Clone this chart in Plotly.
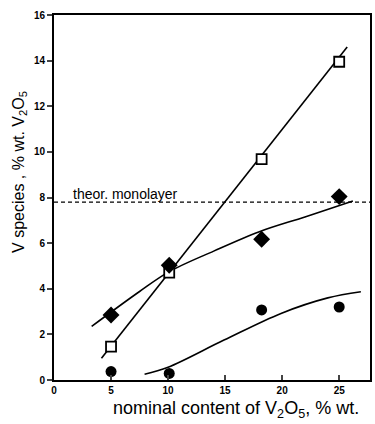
import plotly.graph_objects as go

# Measured V species content vs nominal V2O5 loading (% wt.)
nominal = [5.0, 10.1, 18.2, 25.0]
squares = [1.46, 4.71, 9.68, 13.95]
diamonds = [2.85, 5.03, 6.17, 8.04]
circles = [0.37, 0.29, 3.07, 3.20]

# Hand-drawn trend curves
sq_fit_x = [4.16, 25.7]
sq_fit_y = [0.95, 14.6]
di_fit_x = [3.3, 7.5, 10.1, 14.0, 18.0, 22.0, 26.2]
di_fit_y = [2.35, 3.88, 4.75, 5.65, 6.5, 7.15, 7.85]
ci_fit_x = [7.94, 10.0, 14.9, 19.9, 24.0, 26.9]
ci_fit_y = [0.25, 0.56, 1.75, 2.92, 3.6, 3.87]

monolayer = 7.8

x_ticks = [0, 5, 10, 15, 20, 25]
y_ticks = [0, 2, 4, 6, 8, 10, 12, 14, 16]

FONT = "Liberation Sans"
line_style = dict(color="black", width=1.6)

fig = go.Figure()
fig.add_trace(go.Scatter(x=sq_fit_x, y=sq_fit_y, mode="lines", line=line_style))
fig.add_trace(go.Scatter(x=di_fit_x, y=di_fit_y, mode="lines",
                         line=dict(line_style, shape="spline", smoothing=1.0)))
fig.add_trace(go.Scatter(x=ci_fit_x, y=ci_fit_y, mode="lines",
                         line=dict(line_style, shape="spline", smoothing=1.0)))

fig.add_trace(go.Scatter(x=nominal, y=squares, mode="markers",
                         marker=dict(symbol="square", size=10, color="white",
                                     line=dict(color="black", width=1.8))))
fig.add_trace(go.Scatter(x=nominal, y=diamonds, mode="markers",
                         marker=dict(symbol="diamond", size=13, color="black")))
fig.add_trace(go.Scatter(x=nominal, y=circles, mode="markers",
                         marker=dict(symbol="circle", size=11, color="black")))

fig.add_shape(type="line", xref="paper", x0=0, x1=1, yref="y", y0=monolayer, y1=monolayer,
              line=dict(color="black", width=1.3, dash="4px,3px"))
fig.add_annotation(x=1.5, y=monolayer, xref="x", yref="y", text="theor. monolayer",
                   showarrow=False, xanchor="left", yanchor="bottom", yshift=-2,
                   font=dict(family=FONT, size=14, color="black"))

fig.add_annotation(x=0.575, y=0, xref="paper", yref="paper", yshift=-29,
                   text="nominal content of V<sub>2</sub>O<sub>5</sub>, % wt.",
                   showarrow=False, xanchor="center", yanchor="middle",
                   font=dict(family=FONT, size=18, color="black"))
fig.add_annotation(x=0, y=0.57, xref="paper", yref="paper", xshift=-34,
                   text="V species , % wt. V<sub>2</sub>O<sub>5</sub>", textangle=-90,
                   showarrow=False, xanchor="center", yanchor="middle",
                   font=dict(family=FONT, size=16, color="black"))

fig.update_layout(
    width=375, height=424,
    margin=dict(l=54, r=3, t=15, b=44),
    paper_bgcolor="white", plot_bgcolor="white",
    showlegend=False,
    font=dict(family=FONT, color="black"),
)
fig.update_xaxes(range=[0, 27.7], tickvals=x_ticks, ticktext=[f"<b>{v}</b>" for v in x_ticks],
                 ticks="inside", ticklen=5, tickwidth=1.5,
                 showline=True, linecolor="black", linewidth=2, mirror=True, showgrid=False,
                 zeroline=False, tickfont=dict(family=FONT, size=10))
fig.update_yaxes(range=[0, 16], tickvals=y_ticks, ticktext=[f"<b>{v}</b>" for v in y_ticks],
                 ticks="outside", ticklen=5, tickwidth=1.5,
                 showline=True, linecolor="black", linewidth=2, mirror=True, showgrid=False,
                 zeroline=False, tickfont=dict(family=FONT, size=10))

fig.write_html("out.html")
